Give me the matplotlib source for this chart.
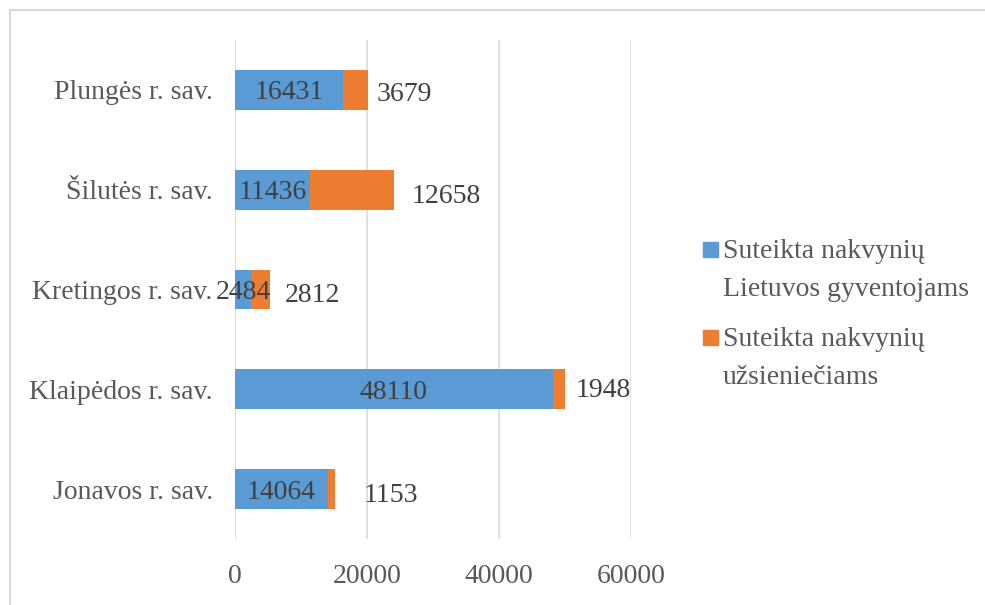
import numpy as np
import matplotlib.pyplot as plt
from matplotlib.patches import Rectangle

# Duomenys (is apacios i virsu)
savivaldybes = ['Jonavos r. sav.', 'Klaipėdos r. sav.', 'Kretingos r. sav.',
                'Šilutės r. sav.', 'Plungės r. sav.']
lietuvos_gyv = [14064, 48110, 2484, 11436, 16431]
uzsienieciai = [1153, 1948, 2812, 12658, 3679]
serijos = ['Suteikta nakvynių\nLietuvos gyventojams',
           'Suteikta nakvynių\nužsieniečiams']
x_ticks = [0, 20000, 40000, 60000]

# rankiniai oranziniu etikeciu postumiai (pikseliais)
etik_dx = [28, 10, 15, 18, 9]
etik_dy = [3.5, -1.5, 2.5, 3.5, 1.5]

melyna = '#5b9bd5'
oranzine = '#ed7d31'
teksto_spalva = '#404040'

plt.rcParams['font.family'] = ['Liberation Serif', 'DejaVu Serif']
plt.rcParams['font.size'] = 20

W, H = 985, 605
fig = plt.figure(figsize=(W / 100, H / 100), dpi=100)

def px(x, y):
  # pikseliai (nuo virsaus) -> figuros koordinates
  return x / W, 1 - y / H

ax = fig.add_axes([235 / W, 66 / H, 396 / W, 499 / H])

y = np.arange(len(savivaldybes))
b1 = ax.barh(y, lietuvos_gyv, height=0.4, color=melyna, zorder=3)
b2 = ax.barh(y, uzsienieciai, left=lietuvos_gyv, height=0.4, color=oranzine, zorder=3)

for i in range(len(y)):
  ax.text(lietuvos_gyv[i] / 2, y[i], str(lietuvos_gyv[i]), ha='center',
          va='center_baseline', color=teksto_spalva, zorder=4)
  ax.annotate(str(uzsienieciai[i]), xy=(lietuvos_gyv[i] + uzsienieciai[i], y[i]),
              xytext=(etik_dx[i], -etik_dy[i]), textcoords='offset pixels',
              ha='left', va='center_baseline', color=teksto_spalva, zorder=4)

ax.set_xlim(0, 60000)
ax.set_ylim(-0.5, len(y) - 0.5)
ax.set_xticks(x_ticks)
ax.set_xticklabels([str(t) for t in x_ticks], color='#595959')
ax.set_yticks(y)
ax.set_yticklabels(savivaldybes, color='#595959')
ax.tick_params(length=0)
ax.tick_params(axis='x', pad=18)
ax.tick_params(axis='y', pad=16)
ax.grid(axis='x', color='#d9d9d9', linewidth=1.2, zorder=0)
for s in ax.spines.values():
  s.set_visible(False)

# legenda (rankinis isdestymas)
spalvos = [melyna, oranzine]
legend_y = [258, 346]
for k in range(2):
  x0, y0 = px(703, legend_y[k] - 1)
  fig.patches.append(Rectangle((x0, y0), 15 / W, 15 / H, transform=fig.transFigure,
                               color=spalvos[k]))
  for j, eil in enumerate(serijos[k].split('\n')):
    tx, ty = px(723, legend_y[k] + 38 * j)
    fig.text(tx, ty, eil, va='baseline', ha='left', color='#595959')

# diagramos remelis
fig.patches.append(Rectangle(px(10, H + 20), 1.1, (H + 10) / H, transform=fig.transFigure,
                             fill=False, edgecolor='#d9d9d9', linewidth=1.5))

plt.savefig('out.png', dpi=100)
